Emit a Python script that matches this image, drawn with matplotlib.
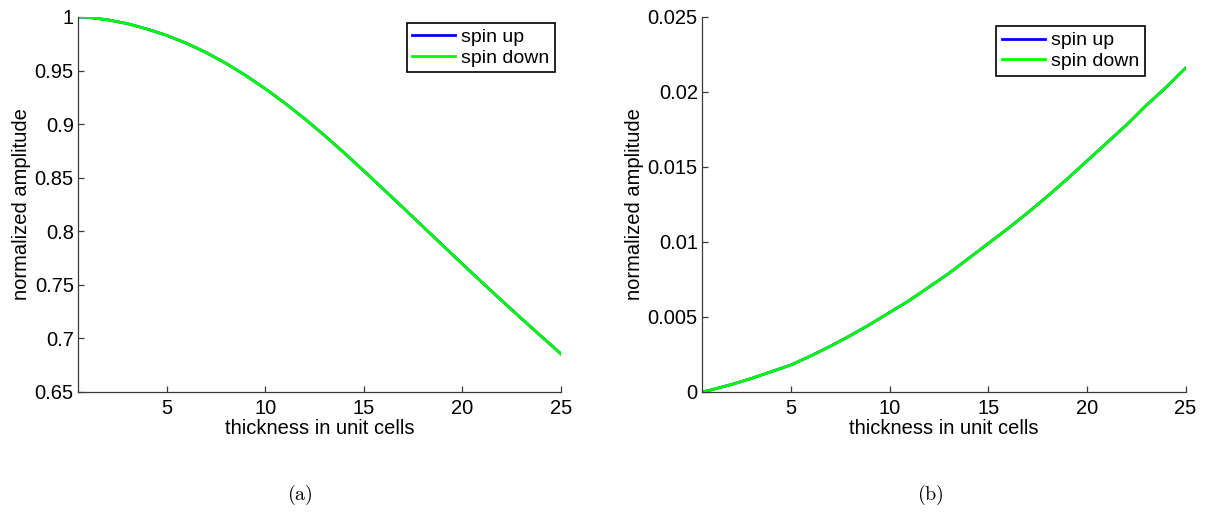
import matplotlib

matplotlib.use("Agg")
import matplotlib.pyplot as plt


# thickness in unit cells
thickness = [0.5, 1, 2, 3, 4, 5, 6, 7, 8, 9, 10, 11, 12, 13,
             14, 15, 16, 17, 18, 19, 20, 21, 22, 23, 24, 25]

# panel (a)
amp_a = [1.0, 0.9997, 0.9974, 0.9938, 0.9888, 0.9828, 0.9755, 0.9668, 0.9568,
         0.9455, 0.9330, 0.9195, 0.9050, 0.8895, 0.8732, 0.8563, 0.8391, 0.8218,
         0.8043, 0.7868, 0.7694, 0.7522, 0.7352, 0.7184, 0.7019, 0.6855]

# panel (b)
amp_b = [0.0, 0.00015, 0.0005, 0.0009, 0.00135, 0.0018, 0.0024, 0.00305, 0.00375,
         0.0045, 0.0053, 0.0061, 0.0070, 0.0079, 0.0089, 0.0099, 0.0109, 0.01195,
         0.01305, 0.0142, 0.0154, 0.0166, 0.0178, 0.0191, 0.0203, 0.0216]

x_ticks = [5, 10, 15, 20, 25]
y_ticks_a = [0.65, 0.7, 0.75, 0.8, 0.85, 0.9, 0.95, 1.0]
y_labels_a = ["0.65", "0.7", "0.75", "0.8", "0.85", "0.9", "0.95", "1"]
y_ticks_b = [0, 0.005, 0.01, 0.015, 0.02, 0.025]
y_labels_b = ["0", "0.005", "0.01", "0.015", "0.02", "0.025"]

plt.rcParams["font.family"] = ["Liberation Sans", "DejaVu Sans"]
plt.rcParams["mathtext.fontset"] = "cm"

FS = 14.5
AXIS_COLOR = "#3a3a3a"

fig = plt.figure(figsize=(12.06, 5.12), dpi=100)
ax_a = fig.add_axes([0.0647, 0.2344, 0.4005, 0.7324])
ax_b = fig.add_axes([0.5821, 0.2344, 0.4010, 0.7324])


def _style(ax, up, down, y_ticks, y_labels, ylim, legend_anchor):
    ax.plot(thickness, up, color="#0000ff", linewidth=2.0, label="spin up")
    ax.plot(thickness, down, color="#00ff00", linewidth=2.0, label="spin down")
    ax.set_xlim(0.5, 25)
    ax.set_ylim(*ylim)
    ax.set_xticks(x_ticks)
    ax.set_xticklabels([str(t) for t in x_ticks], fontsize=FS)
    ax.set_yticks(y_ticks)
    ax.set_yticklabels(y_labels, fontsize=FS)
    for side in ("top", "right"):
        ax.spines[side].set_visible(False)
    for side in ("left", "bottom"):
        ax.spines[side].set_color(AXIS_COLOR)
        ax.spines[side].set_linewidth(0.9)
    ax.tick_params(direction="in", length=4, width=0.9, color=AXIS_COLOR, pad=3)
    ax.tick_params(axis="x", pad=5)
    ax.set_xlabel("thickness in unit cells", fontsize=FS, labelpad=1)
    ax.set_ylabel("normalized amplitude", fontsize=FS, labelpad=3)
    leg = ax.legend(loc="upper right", bbox_to_anchor=legend_anchor, fontsize=14,
                    frameon=True, fancybox=False, framealpha=1, edgecolor="black",
                    handlelength=2.2, handletextpad=0.3, borderpad=0.3,
                    labelspacing=0.15, borderaxespad=0)
    leg.get_frame().set_linewidth(1.2)


_style(ax_a, amp_a, amp_a, y_ticks_a, y_labels_a, (0.65, 1.0), (0.9876, 0.985))
_style(ax_b, amp_b, amp_b, y_ticks_b, y_labels_b, (0, 0.025), (0.916, 0.976))

fig.text(300 / 1206, 1 - 495 / 512, r"$\mathrm{(a)}$", fontsize=FS,
         ha="center", va="center")
fig.text(930 / 1206, 1 - 495 / 512, r"$\mathrm{(b)}$", fontsize=FS,
         ha="center", va="center")

fig.savefig("out.png", dpi=100)
